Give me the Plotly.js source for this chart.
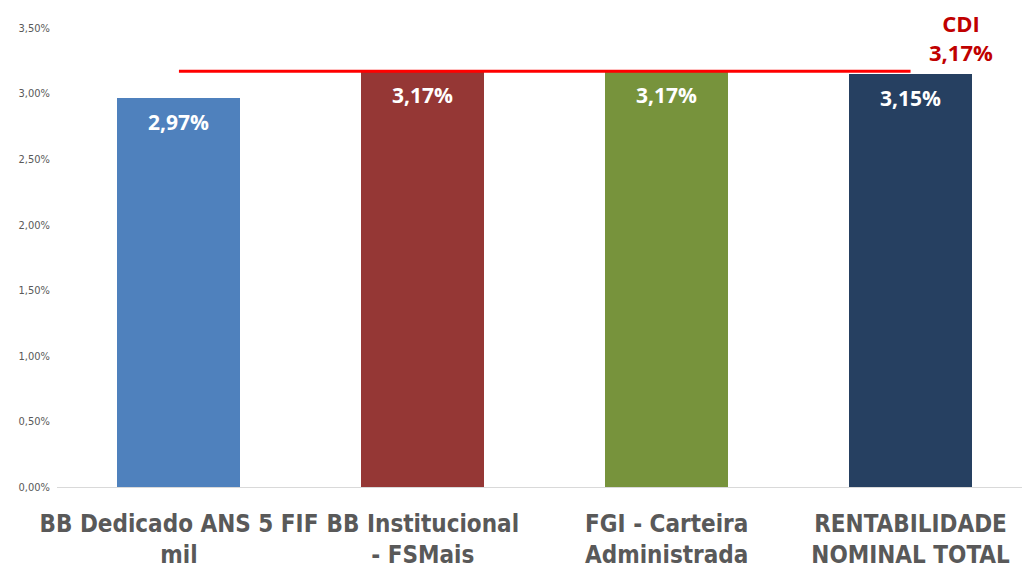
<!DOCTYPE html>
<html>
<head>
<meta charset="utf-8">
<script src="https://cdn.plot.ly/plotly-3.0.1.min.js"></script>
<style>
  html, body { margin:0; padding:0; background:#fff; }
  #chart { width:1022px; height:574px; }
</style>
</head>
<body>
<div id="chart"></div>
<script>
// fund returns vs CDI
const categories = ['BB Dedicado ANS 5 FIF<br>mil', 'BB Institucional<br>- FSMais', 'FGI - Carteira<br>Administrada', 'RENTABILIDADE<br>NOMINAL TOTAL'];
const returns = [2.97, 3.17, 3.17, 3.15];
const returnLabels = ['2,97%', '3,17%', '3,17%', '3,15%'];
const barColors = ['#4F81BD', '#953735', '#77933C', '#264061'];
const cdiValue = 3.17;
const cdiLabel = 'CDI<br>3,17%';
const yTickVals = [0, 0.5, 1, 1.5, 2, 2.5, 3, 3.5];
const yTickText = ['0,00%', '0,50%', '1,00%', '1,50%', '2,00%', '2,50%', '3,00%', '3,50%'];

const FONT = '"Open Sans", Arial, sans-serif';
const NARROW = '"DejaVu Sans Condensed", "Liberation Sans Narrow", "Open Sans", sans-serif';

const bars = {
  type: 'bar',
  x: categories,
  y: returns,
  width: 0.504,
  marker: {color: barColors},
  hoverinfo: 'none'
};

const cdiLine = {
  type: 'scatter',
  mode: 'lines',
  x: categories,
  y: categories.map(()=>cdiValue),
  line: {color: '#FF0000', width: 3},
  hoverinfo: 'none'
};

const annotations = returns.map((v, i)=>({
  x: categories[i], y: v, xref: 'x', yref: 'y',
  text: returnLabels[i], showarrow: false,
  yanchor: 'top', yshift: -8,
  font: {family: FONT, size: 21, color: '#FFFFFF', weight: 'bold'}
}));

annotations.push({
  x: categories[3], y: cdiValue, xref: 'x', yref: 'y',
  text: cdiLabel, showarrow: false,
  xanchor: 'center', yanchor: 'bottom', xshift: 50, yshift: 2,
  font: {family: FONT, size: 22, color: '#C00000', weight: 'bold'}
});

const layout = {
  width: 1022, height: 574,
  paper_bgcolor: '#FFFFFF', plot_bgcolor: '#FFFFFF',
  margin: {l: 57, r: 0, t: 28, b: 87},
  showlegend: false,
  bargap: 0,
  xaxis: {
    type: 'category',
    range: [-0.5, 3.457],
    showline: true, linecolor: '#D9D9D9', linewidth: 1,
    showgrid: false, ticks: '',
    tickangle: 0,
    ticklabelstandoff: 15,
    tickfont: {family: NARROW, size: 24, color: '#595959', weight: 'bold'}
  },
  yaxis: {
    range: [0, 3.5],
    tickvals: yTickVals, ticktext: yTickText,
    showgrid: false, zeroline: false, showline: false, ticks: '',
    ticklabelstandoff: 6,
    tickfont: {family: NARROW, size: 11, color: '#595959'}
  },
  annotations: annotations
};

Plotly.newPlot('chart', [bars, cdiLine], layout, {displayModeBar: false, staticPlot: true});
</script>
</body>
</html>
